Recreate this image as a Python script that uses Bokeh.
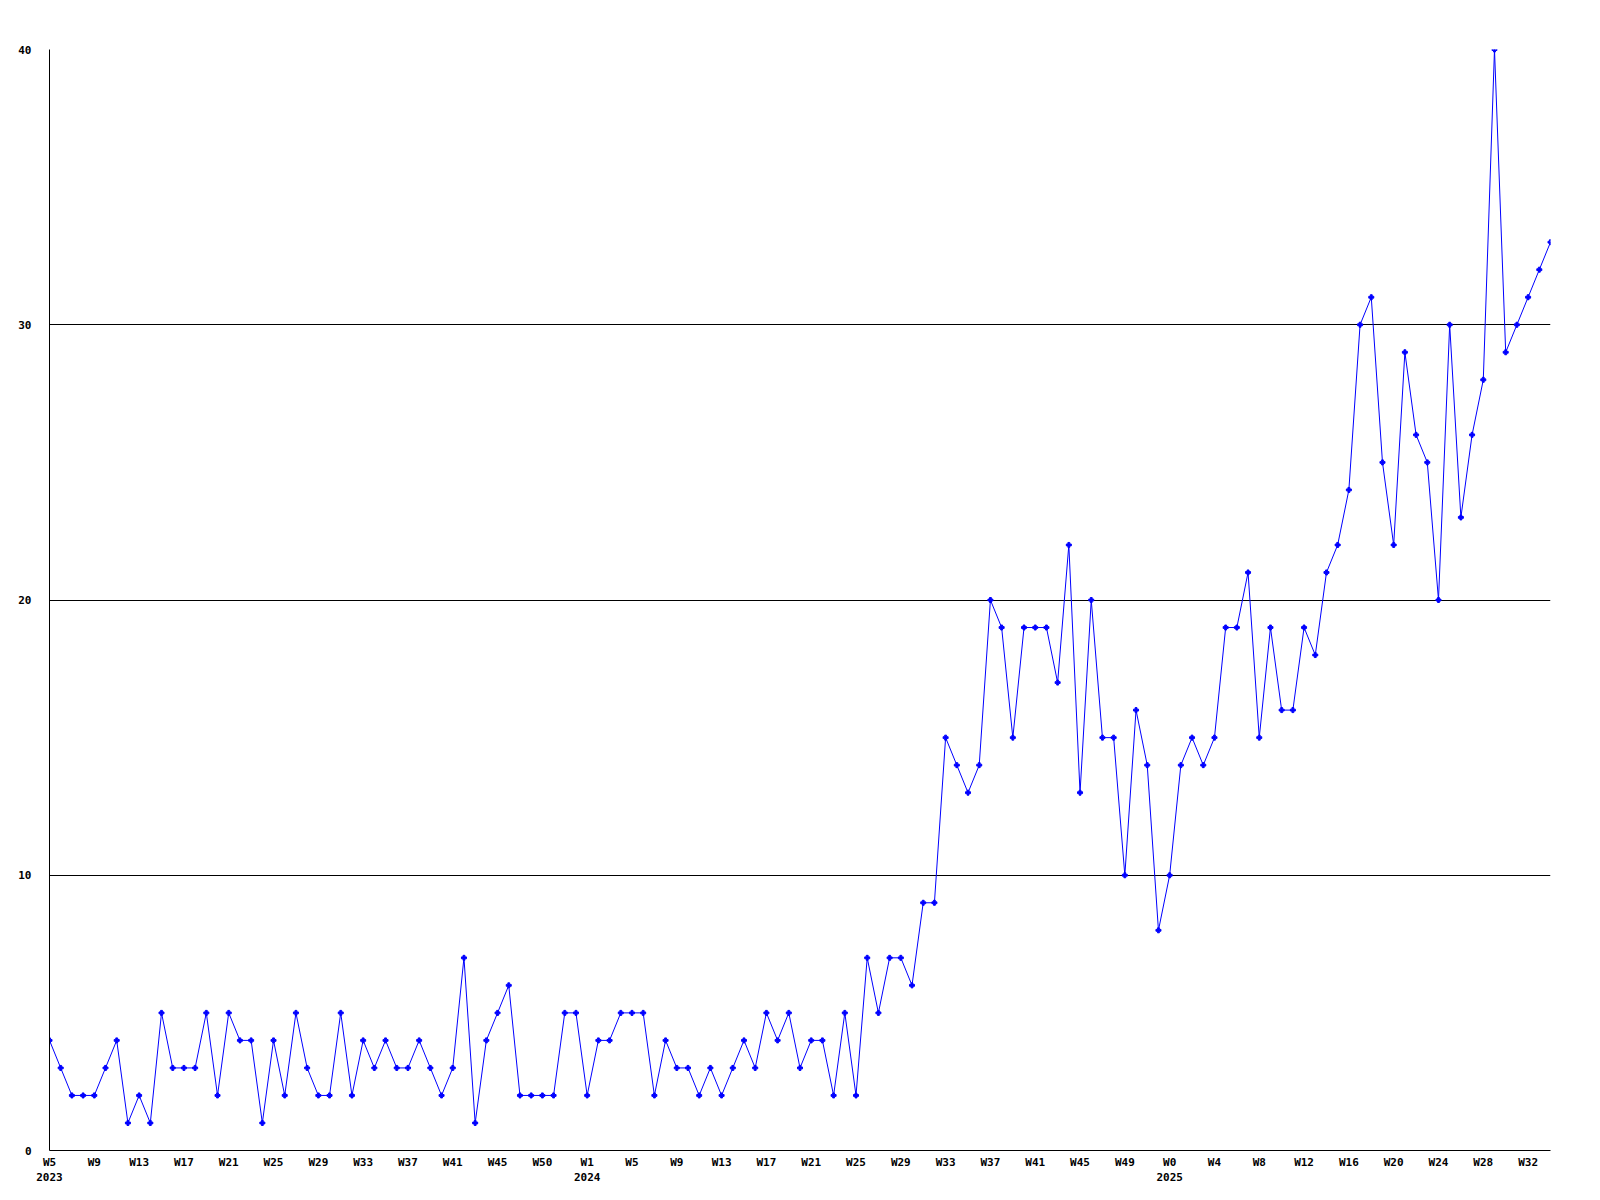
from bokeh.plotting import figure
from bokeh.models import Range1d, FixedTicker
from bokeh.embed import file_html
from bokeh.resources import INLINE

# Weekly counts, W5 2023 .. W34 2025 (one value per week)
values = [
    4, 3, 2, 2, 2, 3, 4, 1, 2, 1,
    5, 3, 3, 3, 5, 2, 5, 4, 4, 1,
    4, 2, 5, 3, 2, 2, 5, 2, 4, 3,
    4, 3, 3, 4, 3, 2, 3, 7, 1, 4,
    5, 6, 2, 2, 2, 2, 5, 5, 2, 4,
    4, 5, 5, 5, 2, 4, 3, 3, 2, 3,
    2, 3, 4, 3, 5, 4, 5, 3, 4, 4,
    2, 5, 2, 7, 5, 7, 7, 6, 9, 9,
    15, 14, 13, 14, 20, 19, 15, 19, 19, 19,
    17, 22, 13, 20, 15, 15, 10, 16, 14, 8,
    10, 14, 15, 14, 15, 19, 19, 21, 15, 19,
    16, 16, 19, 18, 21, 22, 24, 30, 31, 25,
    22, 29, 26, 25, 20, 30, 23, 26, 28, 40,
    29, 30, 31, 32, 33,
]

# Tick labels, one every 4 weeks
tick_labels = [
    "W5\n2023", "W9", "W13", "W17", "W21", "W25", "W29", "W33", "W37", "W41", "W45", "W50",
    "W1\n2024", "W5", "W9", "W13", "W17", "W21", "W25", "W29", "W33", "W37", "W41", "W45", "W49",
    "W0\n2025", "W4", "W8", "W12", "W16", "W20", "W24", "W28", "W32",
]
tick_step = 4

y_ticks = [0, 10, 20, 30, 40]

x = list(range(len(values)))
tick_pos = [i * tick_step for i in range(len(tick_labels))]

p = figure(width=1592, height=1192, output_backend="svg", toolbar_location=None,
           x_range=Range1d(0, len(values) - 1), y_range=Range1d(0, 40),
           min_border_left=49, min_border_right=42, min_border_top=49, min_border_bottom=42)
p.outline_line_color = None
p.background_fill_color = "white"
p.border_fill_color = "white"

p.line(x, values, line_color="#0000ff", line_width=1)
p.scatter(x, values, marker="plus", size=5, color="#0000ff")

font = "DejaVu Sans Mono"

p.xaxis.ticker = FixedTicker(ticks=tick_pos)
p.xaxis.major_label_overrides = {pos: lab for pos, lab in zip(tick_pos, tick_labels)}
p.yaxis.ticker = FixedTicker(ticks=y_ticks)

for ax in (p.xaxis[0], p.yaxis[0]):
    ax.axis_line_color = "black"
    ax.axis_line_width = 1
    ax.major_tick_line_color = None
    ax.minor_tick_line_color = None
    ax.major_tick_out = 0
    ax.major_tick_in = 0
    ax.major_label_text_font = font
    ax.major_label_text_font_style = "bold"
    ax.major_label_text_font_size = "11px"
    ax.major_label_text_color = "black"

p.xaxis.major_label_standoff = 5
p.yaxis.major_label_standoff = 18
p.yaxis.major_label_text_align = "left"

p.xgrid.grid_line_color = None
p.ygrid.grid_line_color = "black"
p.ygrid.grid_line_width = 1

open("out.html", "w").write(file_html(p, INLINE))
